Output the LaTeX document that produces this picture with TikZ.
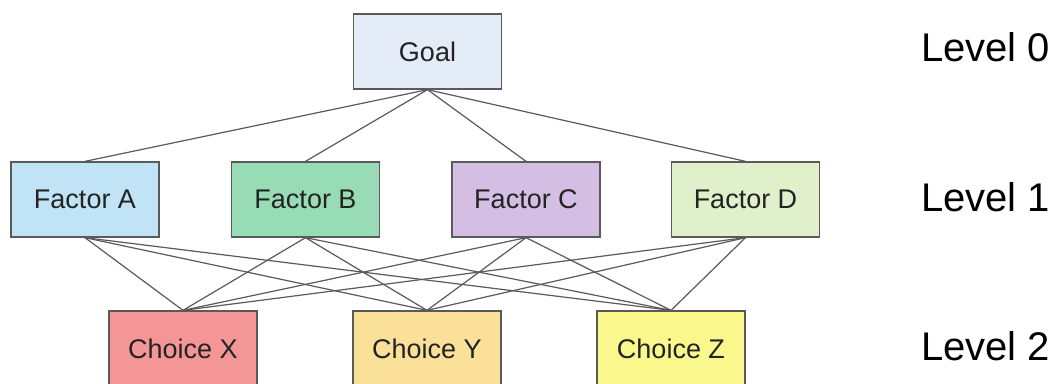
\documentclass[tikz,border=0pt]{standalone}
\usepackage{fontspec}
\setmainfont{Liberation Sans}
\usepackage{tikz}
\definecolor{goalfill}{RGB}{228,236,248}
\definecolor{factAfill}{RGB}{192,228,246}
\definecolor{factBfill}{RGB}{152,220,182}
\definecolor{factCfill}{RGB}{212,190,228}
\definecolor{factDfill}{RGB}{224,240,202}
\definecolor{choiceXfill}{RGB}{244,150,150}
\definecolor{choiceYfill}{RGB}{250,224,152}
\definecolor{choiceZfill}{RGB}{250,248,140}
\definecolor{edgegray}{RGB}{90,90,90}
\definecolor{textgray}{RGB}{35,35,35}

\begin{document}
\begin{tikzpicture}[x=1pt, y=-1pt,
    box/.style={draw=edgegray, line width=1.3pt, minimum width=148pt, minimum height=75pt,
        inner sep=0pt, text=textgray, font=\fontsize{27}{30}\selectfont},
    link/.style={draw=edgegray, line width=1.2pt},
    lvl/.style={anchor=west, inner sep=0pt, text=black, font=\fontsize{40}{44}\selectfont}]
        \useasboundingbox (0,0) rectangle (1059,383);
        \fill[white] (0,0) rectangle (1059,383);
        % level 0
        \node[box, fill=goalfill] (goal) at (427.5,51.5) {Goal};
        % level 1
        \node[box, fill=factAfill] (fA) at (85,199.5) {Factor A};
        \node[box, fill=factBfill] (fB) at (305.5,199.5) {Factor B};
        \node[box, fill=factCfill] (fC) at (526,199.5) {Factor C};
        \node[box, fill=factDfill] (fD) at (745.5,199.5) {Factor D};
        % level 2
        \node[box, fill=choiceXfill] (cX) at (183,348.5) {Choice X};
        \node[box, fill=choiceYfill] (cY) at (427,348.5) {Choice Y};
        \node[box, fill=choiceZfill] (cZ) at (671,348.5) {Choice Z};
        \foreach \f in {fA,fB,fC,fD}{
            \draw[link] (goal.south) -- (\f.north);
        }
        \foreach \f in {fA,fB,fC,fD}{
            \foreach \c in {cX,cY,cZ}{
                \draw[link] (\f.south) -- (\c.north);
            }
        }
        \node[lvl] (lev0) at (921,47) {Level 0};
        \node[lvl] (lev1) at (921,197) {Level 1};
        \node[lvl] (lev2) at (921,346) {Level 2};
    \end{tikzpicture}
\end{document}
